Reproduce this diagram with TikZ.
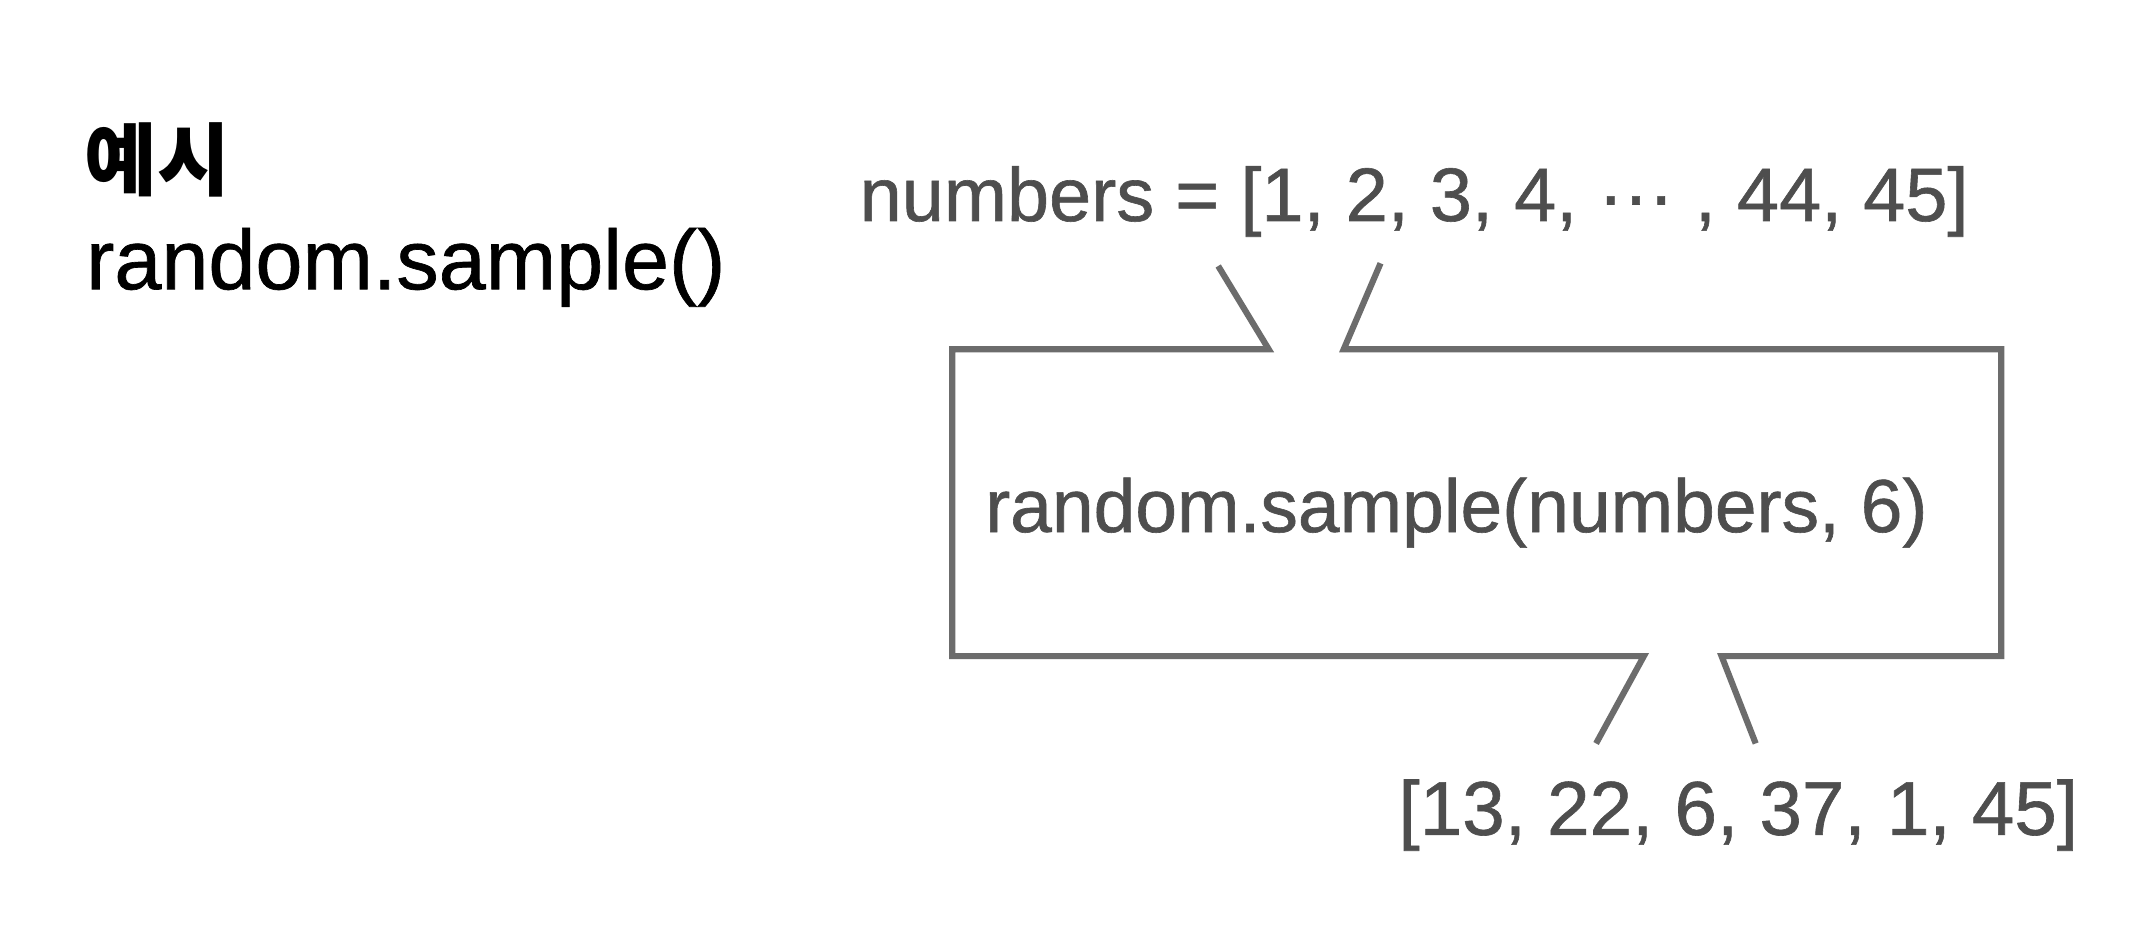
\documentclass[tikz,border=0pt]{standalone}
\usepackage{fontspec}
\setmainfont{Liberation Sans}[FakeBold=0.8]
\newfontfamily\kr{Noto Sans CJK KR}
\definecolor{txtgray}{HTML}{4E4E4E}
\definecolor{linegray}{HTML}{6C6C6C}
\begin{document}
\begin{tikzpicture}[x=1pt,y=-1pt,
  title/.style={inner sep=0pt,anchor=base west,text=black},
  code/.style={inner sep=0pt,anchor=base west,text=txtgray},
  boxline/.style={draw=linegray,line width=4.5pt,line join=miter}]
\useasboundingbox[fill=white] (0,0) rectangle (1568,682);
\node[title,font=\kr\bfseries\fontsize{58}{64}\selectfont] (ex) at (62,139) {예시};
\node[title,font=\fontsize{62}{70}\selectfont] (fn) at (63,212) {random.sample()};
\node[code,font=\fontsize{55.5}{64}\selectfont] (nums) at (630,162) {numbers = [1, 2, 3, 4, \textperiodcentered\textperiodcentered\textperiodcentered\ , 44, 45]};
\node[code,font=\fontsize{55}{64}\selectfont] (call) at (722,390) {random.sample(numbers, 6)};
\node[code,font=\fontsize{56}{64}\selectfont] (res) at (1025,612) {[13, 22, 6, 37, 1, 45]};
\coordinate (inL) at (893,195);
\coordinate (inR) at (1012,193);
\coordinate (outL) at (1170,545);
\coordinate (outR) at (1287,545);
\draw[boxline] (inL) -- (930,256) -- (698,256) -- (698,481) -- (1205,481) -- (outL);
\draw[boxline] (inR) -- (985,256) -- (1467,256) -- (1467,481) -- (1262,481) -- (outR);
\end{tikzpicture}
\end{document}
